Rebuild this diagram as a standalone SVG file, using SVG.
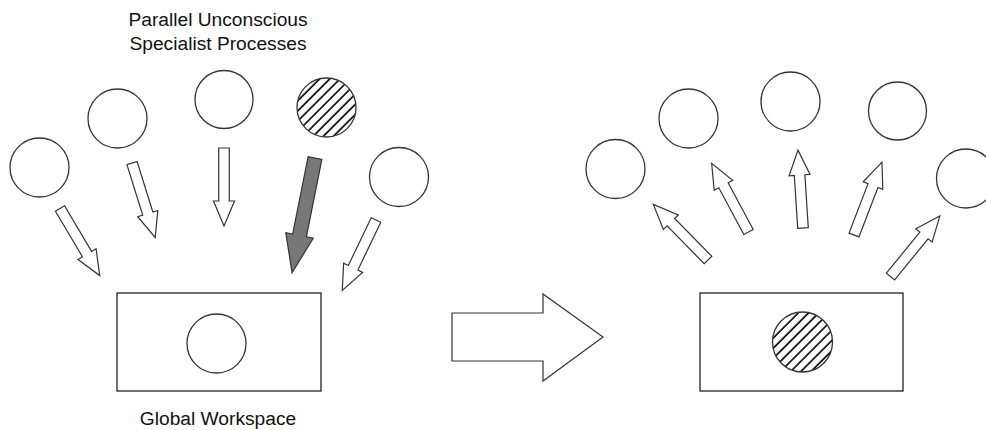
<svg xmlns="http://www.w3.org/2000/svg" width="986" height="430" viewBox="0 0 986 430">
<style>
.c{fill:#fff;stroke:#333;stroke-width:1.3}
.h{fill:url(#hatch);stroke:#333;stroke-width:1.3}
.box{fill:#fff;stroke:#222;stroke-width:1.3}
.ar{fill:#fff;stroke:#333;stroke-width:1.2;stroke-linejoin:miter}
.big{fill:#777;stroke:#333;stroke-width:1.2}
.t{font-family:"Liberation Sans",Arial,sans-serif;font-size:19.2px;fill:#111;text-anchor:middle}
</style>
<defs>
<pattern id="hatch" patternUnits="userSpaceOnUse" width="7.2" height="7.2" patternTransform="rotate(-45)">
<rect width="7.2" height="7.2" fill="#fff"/>
<line x1="0" y1="1" x2="7.2" y2="1" stroke="#000" stroke-width="1.6"/>
</pattern>
<polygon id="sa" points="0,-5.3 53,-5.3 53,-10.5 78,0 53,10.5 53,5.3 0,5.3"/>
<polygon id="la" points="0,-7 79,-7 79,-14 117,0 79,14 79,7 0,7"/>
</defs>
<rect width="986" height="430" fill="#fff"/>

<g id="title"><text class="t" x="218" y="26">Parallel Unconscious</text><text class="t" x="218" y="50">Specialist Processes</text></g>

<g id="p1"><circle class="c" cx="39.5" cy="167.5" r="29.5"/></g>
<g id="p2"><circle class="c" cx="117.5" cy="118.5" r="29.5"/></g>
<g id="p3"><circle class="c" cx="224" cy="99.5" r="29"/></g>
<g id="p4"><circle class="h" cx="326.5" cy="107.5" r="29.5"/></g>
<g id="p5"><circle class="c" cx="399" cy="177" r="29.5"/></g>

<g id="workspace-left">
<rect class="box" x="117" y="293" width="204" height="98"/>
<circle class="c" cx="216.5" cy="343.5" r="29.5"/>
<text class="t" x="218" y="425">Global Workspace</text>
</g>

<g id="transition"><polygon class="ar" points="452,313 543,313 543,294 603,337 543,381 543,361 452,361"/></g>

<g id="q1"><circle class="c" cx="615.5" cy="169" r="29.5"/></g>
<g id="q2"><circle class="c" cx="688.5" cy="118.5" r="29.5"/></g>
<g id="q3"><circle class="c" cx="790.5" cy="101.5" r="29.5"/></g>
<g id="q4"><circle class="c" cx="897.5" cy="111" r="29"/></g>
<g id="q5"><circle class="c" cx="966" cy="178.5" r="29.5"/></g>

<g id="workspace-right">
<rect class="box" x="700" y="293" width="203" height="98"/>
<circle class="h" cx="802.5" cy="342" r="30"/>
</g>

<g id="connectors">
<use href="#sa" class="ar" transform="translate(60,208.5) rotate(59.35)"/>
<use href="#sa" class="ar" transform="translate(132,163) rotate(72.7)"/>
<use href="#sa" class="ar" transform="translate(224,148) rotate(90)"/>
<use href="#la" class="big" transform="translate(315,158) rotate(101.3)"/>
<use href="#sa" class="ar" transform="translate(376,220) rotate(115.6)"/>
<use href="#sa" class="ar" transform="translate(708,260) rotate(-134.5)"/>
<use href="#sa" class="ar" transform="translate(748.5,232) rotate(-118.2)"/>
<use href="#sa" class="ar" transform="translate(803,228) rotate(-93.7)"/>
<use href="#sa" class="ar" transform="translate(854,235) rotate(-69)"/>
<use href="#sa" class="ar" transform="translate(890.5,276.5) rotate(-50.8)"/>
</g>
</svg>
